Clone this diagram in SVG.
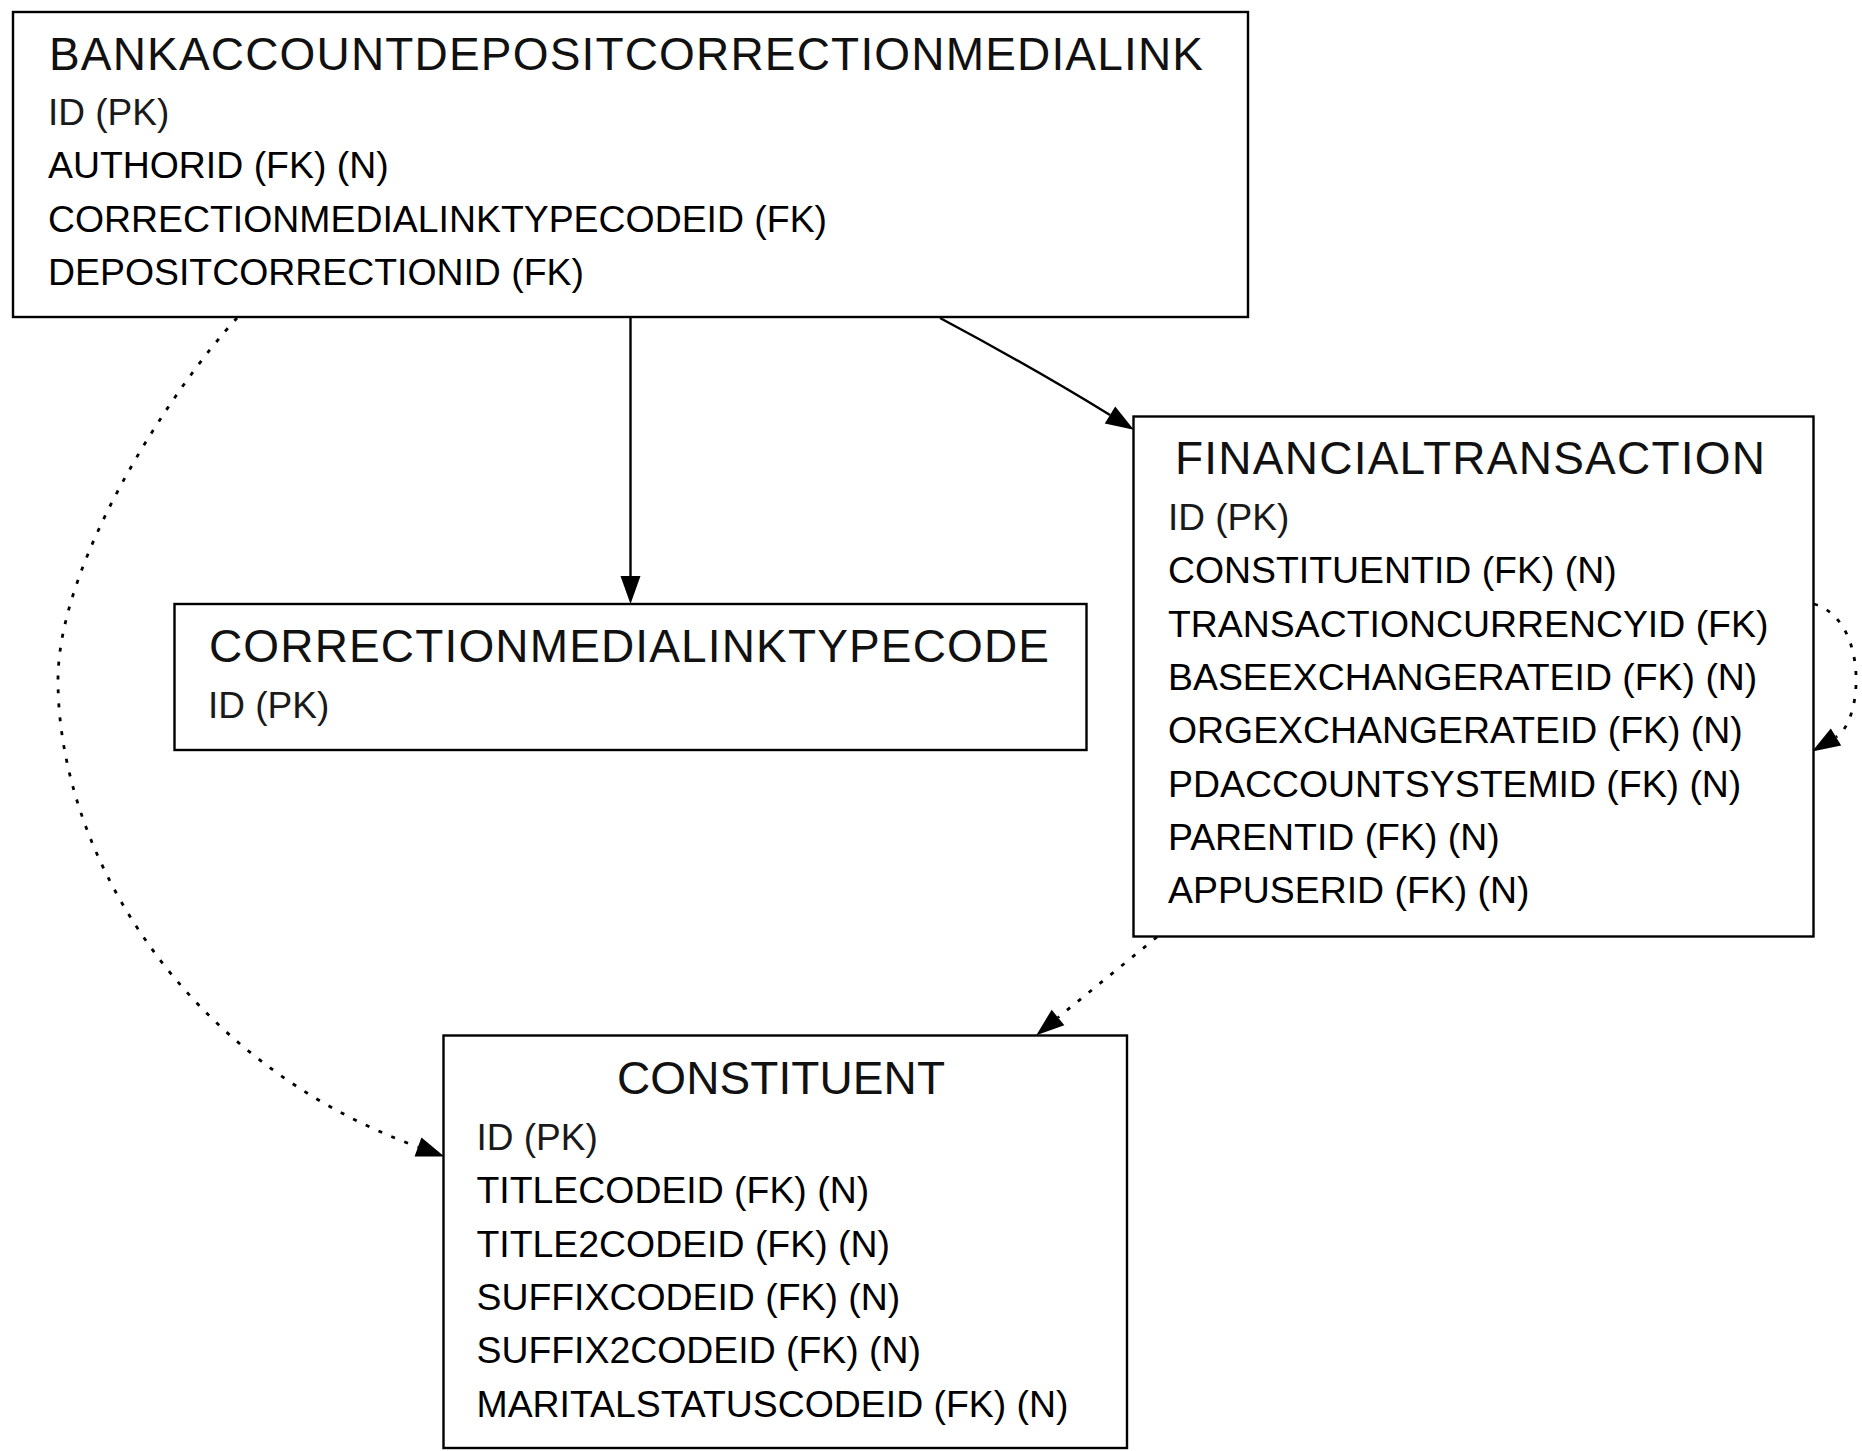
<svg xmlns="http://www.w3.org/2000/svg" width="1862" height="1451" viewBox="0 0 1862 1451">
<style>
.box{fill:#fff;stroke:#000;stroke-width:2.4}
.title{font-family:"Liberation Sans",Arial,sans-serif;font-size:46px;fill:#111}
.pk{font-family:"Liberation Sans",Arial,sans-serif;font-size:37px;fill:#1a1a1a}
.row{font-family:"Liberation Sans",Arial,sans-serif;font-size:37.4px;fill:#000}
.edge{fill:none;stroke:#000;stroke-width:2.4}
.dot{stroke-width:2.8;stroke-dasharray:4,10}
</style>
<defs>
<marker id="arr" markerUnits="userSpaceOnUse" markerWidth="30" markerHeight="22" refX="0" refY="10" orient="auto" overflow="visible">
<path d="M0,0 L28,10 L0,20 z" fill="#000" stroke="none"/>
</marker>
</defs>
<rect width="1862" height="1451" fill="#fff"/>
<g id="connectors">
<path class="edge" d="M630.5,318 L630.5,576" marker-end="url(#arr)"/>
<path class="edge" d="M940,318 C985,342 1050,378 1110,415" marker-end="url(#arr)"/>
<path class="edge dot" d="M237,318 C175,385 58,560 58,680 C58,850 180,1060 418,1147" marker-end="url(#arr)"/>
<path class="edge dot" d="M1157,937 L1058,1017.5" marker-end="url(#arr)"/>
<path class="edge dot" d="M1814,604 C1868,620 1864,720 1836,737" marker-end="url(#arr)"/>
</g>
<g id="node-bankaccountdepositcorrectionmedialink">
<rect class="box" x="13" y="12" width="1235" height="305"/>
<text class="title" x="49" y="70" textLength="1154" lengthAdjust="spacing">BANKACCOUNTDEPOSITCORRECTIONMEDIALINK</text>
<text class="pk" x="48" y="125">ID (PK)</text>
<text class="row" x="48" y="178.3">AUTHORID (FK) (N)</text>
<text class="row" x="48" y="231.7">CORRECTIONMEDIALINKTYPECODEID (FK)</text>
<text class="row" x="48" y="285">DEPOSITCORRECTIONID (FK)</text>
</g>
<g id="node-correctionmedialinktypecode">
<rect class="box" x="174.5" y="604" width="912" height="146"/>
<text class="title" x="209" y="662" textLength="840" lengthAdjust="spacing">CORRECTIONMEDIALINKTYPECODE</text>
<text class="pk" x="208" y="718">ID (PK)</text>
</g>
<g id="node-financialtransaction">
<rect class="box" x="1133.5" y="416.5" width="680" height="520"/>
<text class="title" x="1175" y="474" textLength="590" lengthAdjust="spacing">FINANCIALTRANSACTION</text>
<text class="pk" x="1168" y="530">ID (PK)</text>
<text class="row" x="1168" y="583.3">CONSTITUENTID (FK) (N)</text>
<text class="row" x="1168" y="636.7">TRANSACTIONCURRENCYID (FK)</text>
<text class="row" x="1168" y="690">BASEEXCHANGERATEID (FK) (N)</text>
<text class="row" x="1168" y="743.3">ORGEXCHANGERATEID (FK) (N)</text>
<text class="row" x="1168" y="796.7">PDACCOUNTSYSTEMID (FK) (N)</text>
<text class="row" x="1168" y="850">PARENTID (FK) (N)</text>
<text class="row" x="1168" y="903.3">APPUSERID (FK) (N)</text>
</g>
<g id="node-constituent">
<rect class="box" x="443.5" y="1035.5" width="683.5" height="412.5"/>
<text class="title" x="617" y="1094" textLength="328" lengthAdjust="spacing">CONSTITUENT</text>
<text class="pk" x="476.5" y="1150">ID (PK)</text>
<text class="row" x="476.5" y="1203.3">TITLECODEID (FK) (N)</text>
<text class="row" x="476.5" y="1256.7">TITLE2CODEID (FK) (N)</text>
<text class="row" x="476.5" y="1310">SUFFIXCODEID (FK) (N)</text>
<text class="row" x="476.5" y="1363.3">SUFFIX2CODEID (FK) (N)</text>
<text class="row" x="476.5" y="1416.7">MARITALSTATUSCODEID (FK) (N)</text>
</g>
</svg>
